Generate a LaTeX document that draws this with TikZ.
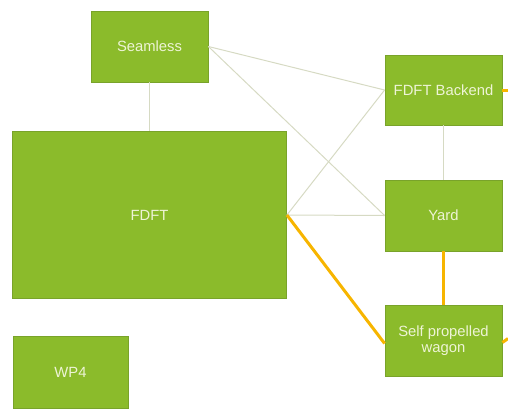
\documentclass[tikz,border=0pt]{standalone}
\usepackage{fontspec}
\setmainfont{Liberation Sans}
\definecolor{boxgreen}{HTML}{8BBB2B}
\definecolor{boxedge}{HTML}{79A32A}
\definecolor{boxtext}{HTML}{EEF4D6}
\definecolor{thinline}{HTML}{D6DAC3}
\definecolor{orangeline}{HTML}{F7B500}
\begin{document}
\begin{tikzpicture}[x=1pt,y=-1pt,
  gbox/.style={draw=boxedge, line width=0.8pt, fill=boxgreen, text=boxtext, inner sep=0pt,
    font=\fontsize{14.8}{16.5}\selectfont, align=center},
  thin/.style={draw=thinline, line width=1pt},
  thick/.style={draw=orangeline, line width=3pt}]
\useasboundingbox (0,0) rectangle (508,408);
\node[gbox, minimum width=117pt, minimum height=71pt] (seam) at (149.5,46.5) {Seamless};
\node[gbox, minimum width=274pt, minimum height=167pt] (fdft) at (149.5,215) {FDFT};
\node[gbox, minimum width=117pt, minimum height=70pt] (back) at (443.5,90) {FDFT Backend};
\node[gbox, minimum width=117pt, minimum height=71pt] (yard) at (443.5,215.5) {Yard};
\node[gbox, minimum width=117pt, minimum height=71pt] (wag) at (443.5,340.5) {Self propelled\\wagon};
\node[gbox, minimum width=115pt, minimum height=72pt] (wp4) at (70.5,372) {WP4};
\coordinate (backstub) at (508,90);
\coordinate (wagstub) at (508,338.5);
\draw[thin] (seam.south) -- (fdft.north);
\draw[thin] (back.south) -- (yard.north);
\draw[thin] (seam.east) -- (back.west);
\draw[thin] (seam.east) -- (yard.west);
\draw[thin] (fdft.east) -- (back.west);
\draw[thin] (fdft.east) -- (yard.west);
\draw[thick] (yard.south) -- (wag.north);
\draw[thick] (fdft.east) -- ([yshift=-3pt]wag.west);
\draw[thick] (back.east) -- (backstub);
\draw[thick] ([yshift=-2pt]wag.east) -- (wagstub);
\end{tikzpicture}
\end{document}
